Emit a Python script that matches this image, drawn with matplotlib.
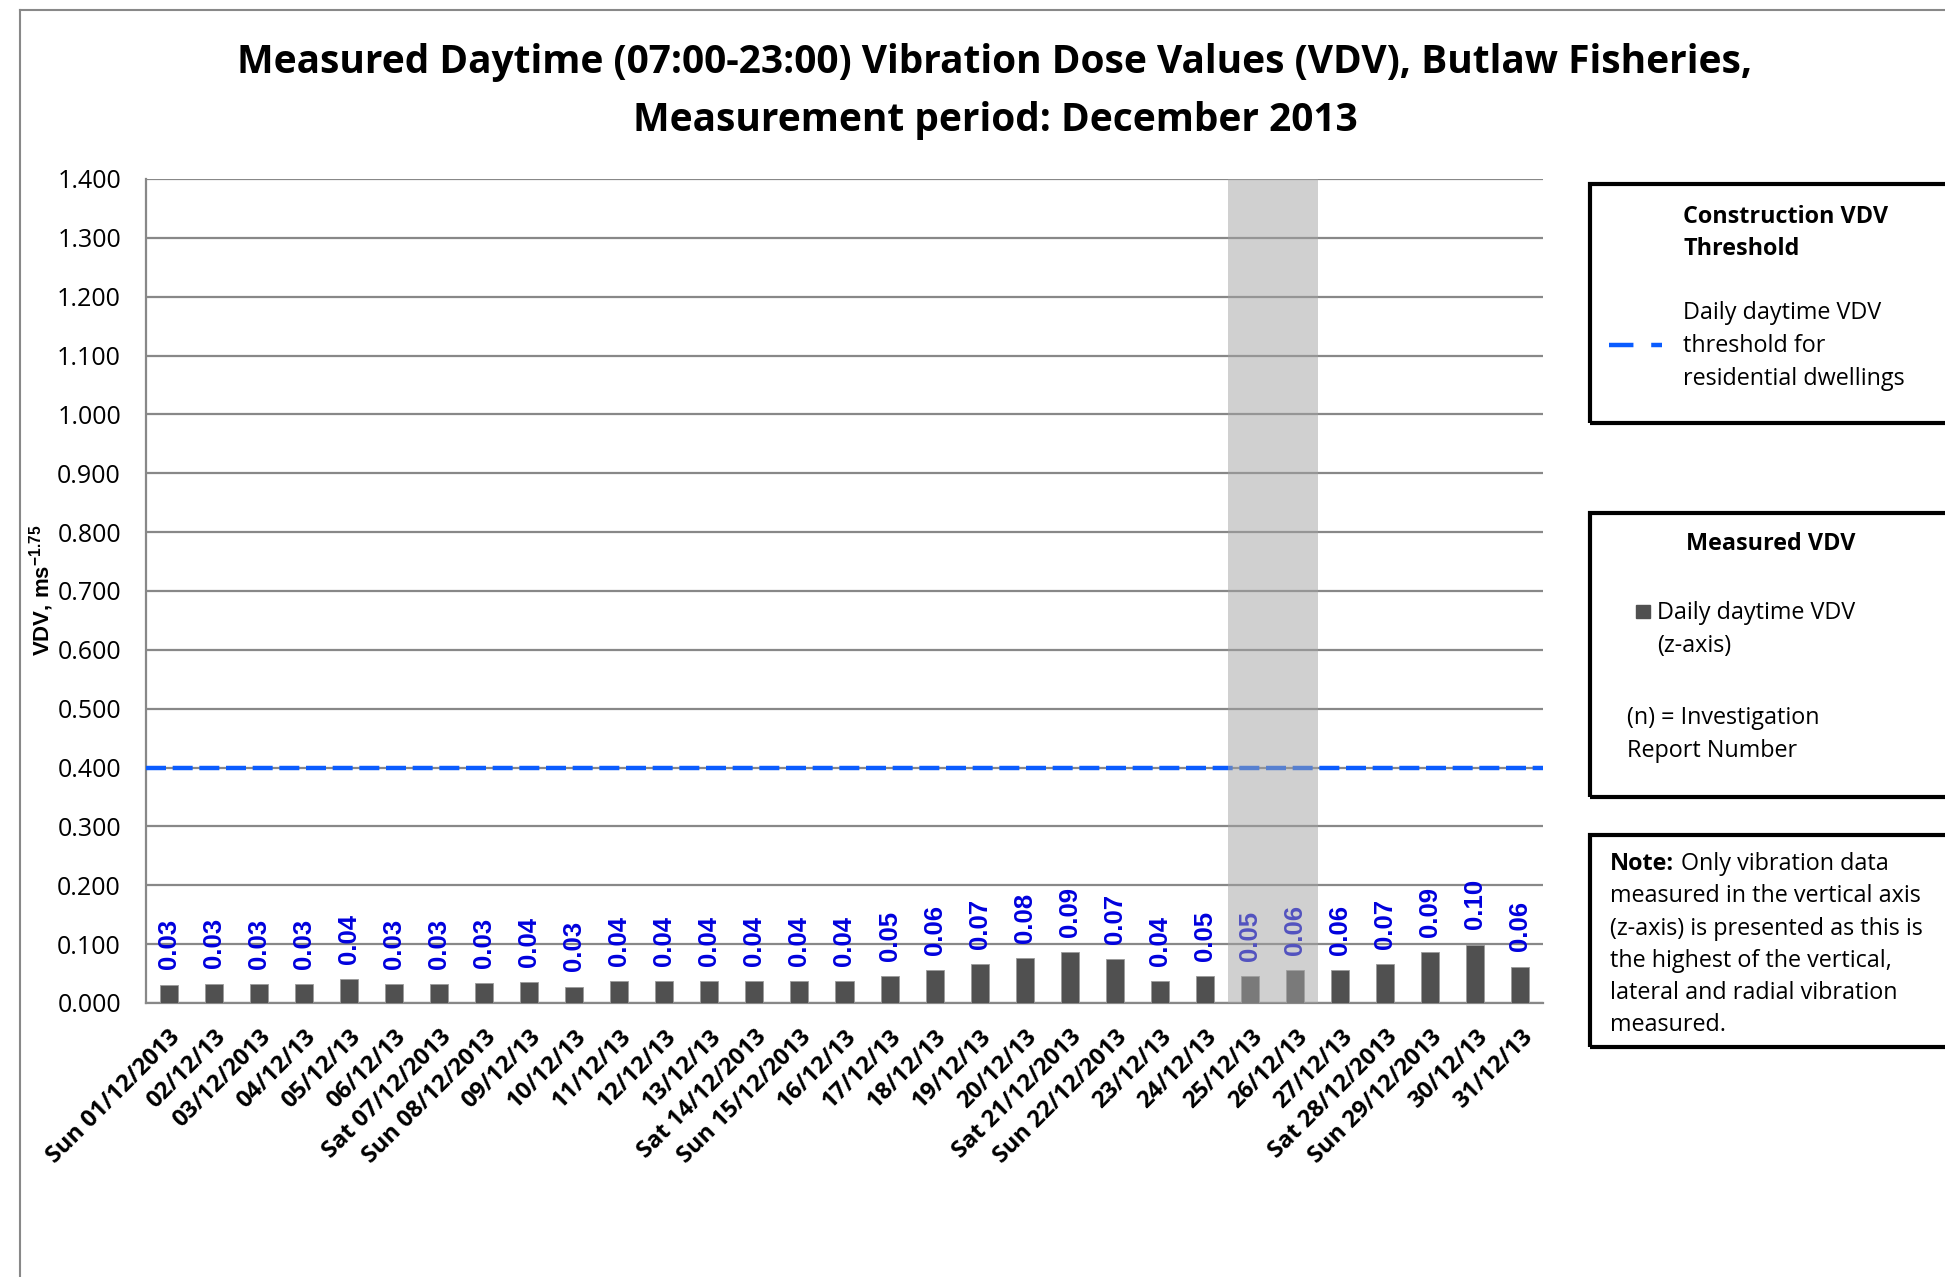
import matplotlib
matplotlib.use("Agg")
import matplotlib.pyplot as plt
from matplotlib.patches import Rectangle
from matplotlib.lines import Line2D

# ---- data ----
dates = ["Sun 01/12/2013", "02/12/13", "03/12/2013", "04/12/13", "05/12/13", "06/12/13",
         "Sat 07/12/2013", "Sun 08/12/2013", "09/12/13", "10/12/13", "11/12/13", "12/12/13",
         "13/12/13", "Sat 14/12/2013", "Sun 15/12/2013", "16/12/13", "17/12/13", "18/12/13",
         "19/12/13", "20/12/13", "Sat 21/12/2013", "Sun 22/12/2013", "23/12/13", "24/12/13",
         "25/12/13", "26/12/13", "27/12/13", "Sat 28/12/2013", "Sun 29/12/2013", "30/12/13",
         "31/12/13"]
vdv = [0.031, 0.033, 0.032, 0.032, 0.041, 0.032, 0.032, 0.034, 0.036, 0.028,
       0.037, 0.037, 0.037, 0.037, 0.037, 0.037, 0.046, 0.056, 0.066, 0.076,
       0.086, 0.074, 0.037, 0.046, 0.046, 0.056, 0.056, 0.066, 0.086, 0.099,
       0.062]
threshold = 0.4
shaded_days = ["25/12/13", "26/12/13"]
yticks = [0.0, 0.1, 0.2, 0.3, 0.4, 0.5, 0.6, 0.7, 0.8, 0.9, 1.0, 1.1, 1.2, 1.3, 1.4]

FONT = "Open Sans"
plt.rcParams["font.family"] = [FONT, "DejaVu Sans"]
plt.rcParams["mathtext.default"] = "regular"

W, H = 1945, 1277
fig = plt.figure(figsize=(W / 100, H / 100), dpi=100)
ax = fig.add_axes([146 / W, 1 - 1003 / H, (1543 - 146) / W, (1003 - 179) / H])

x = list(range(len(dates)))
ax.bar(x, vdv, width=0.4, color="#505050", edgecolor="#9a9a9a", linewidth=0.6, zorder=3)
for xi, v in zip(x, vdv):
    ax.annotate(f"{v:.2f}", (xi, v), xytext=(0, 11), textcoords="offset points",
                rotation=90, ha="center", va="bottom", color="#0000dd",
                fontsize=18.5, fontweight="bold", family="Liberation Sans", zorder=4)

ax.axhline(threshold, color="#0a5cff", linewidth=3.2, dashes=(4.5, 1.5), zorder=4,
           clip_on=False)

i0 = dates.index(shaded_days[0])
i1 = dates.index(shaded_days[-1])
ax.axvspan(i0 - 0.5, i1 + 0.5, color="#a3a3a3", alpha=0.51, linewidth=0, zorder=5)

ax.set_xlim(-0.5, len(dates) - 0.5)
ax.set_ylim(0, 1.4)
ax.set_yticks(yticks)
ax.set_yticklabels([f"{t:.3f}" for t in yticks], fontsize=18)
ax.yaxis.grid(True, color="#888888", linewidth=1.6, zorder=0)
ax.set_axisbelow(True)
ax.set_xticks(x)
ax.set_xticklabels(dates, rotation=45, ha="right", va="top", rotation_mode="anchor",
                   fontsize=17, fontweight="bold")
ax.tick_params(axis="both", length=0)
ax.tick_params(axis="y", pad=18)
ax.tick_params(axis="x", pad=16)
for s in ["top", "right"]:
    ax.spines[s].set_visible(False)
for s in ["left", "bottom"]:
    ax.spines[s].set_color("#888888")
    ax.spines[s].set_linewidth(1.6)

ax.set_ylabel("VDV, ms$^{-1.75}$", fontsize=16, fontweight="bold",
              family=["Liberation Sans Narrow", "Liberation Sans"])
ax.yaxis.set_label_coords(56 / W, 1 - 590 / H, transform=fig.transFigure)

# title
fig.text(995 / W, 1 - 62 / H, "Measured Daytime (07:00-23:00) Vibration Dose Values (VDV), Butlaw Fisheries,",
         ha="center", va="center", fontsize=28, fontweight="bold")
fig.text(995 / W, 1 - 120 / H, "Measurement period: December 2013",
         ha="center", va="center", fontsize=28, fontweight="bold")

# outer chart border (left & top)
fig.add_artist(Line2D([20 / W, 20 / W], [0, 1 - 10 / H], transform=fig.transFigure,
                      color="#888888", linewidth=1.5))
fig.add_artist(Line2D([20 / W, 1], [1 - 10 / H, 1 - 10 / H], transform=fig.transFigure,
                      color="#888888", linewidth=1.5))

# legend boxes
def box(y_top, y_bot):
    fig.add_artist(Rectangle((1590 / W, 1 - y_bot / H), 500 / W, (y_bot - y_top) / H,
                             transform=fig.transFigure, fill=False, edgecolor="black",
                             linewidth=3))

box(184, 423)
box(513, 797)
box(835, 1047)

fs = 16.8
fig.text(1683 / W, 1 - 217 / H, "Construction VDV", fontsize=fs, fontweight="bold", va="center")
fig.text(1683 / W, 1 - 249 / H, "Threshold", fontsize=fs, fontweight="bold", va="center")
for yy, t in zip([313, 346, 379], ["Daily daytime VDV", "threshold for", "residential dwellings"]):
    fig.text(1683 / W, 1 - yy / H, t, fontsize=fs, va="center")
fig.add_artist(Line2D([1609 / W, 1662 / W], [1 - 345 / H, 1 - 345 / H], transform=fig.transFigure,
                      color="#0a5cff", linewidth=3.2, dashes=(5.5, 4)))

fig.text(1771 / W, 1 - 544 / H, "Measured VDV", fontsize=fs, fontweight="bold", va="center", ha="center")
fig.add_artist(Rectangle((1636 / W, 1 - 618 / H), 14 / W, 13 / H, transform=fig.transFigure,
                         color="#505050"))
fig.text(1657 / W, 1 - 613 / H, "Daily daytime VDV", fontsize=fs, va="center")
fig.text(1657 / W, 1 - 646 / H, "(z-axis)", fontsize=fs, va="center")
fig.text(1627 / W, 1 - 718 / H, "(n) = Investigation", fontsize=fs, va="center")
fig.text(1627 / W, 1 - 751 / H, "Report Number", fontsize=fs, va="center")

note = fig.text(1610 / W, 1 - 864 / H, "Note:", fontsize=fs, fontweight="bold", va="center")
fig.canvas.draw()
bb = note.get_window_extent(fig.canvas.get_renderer())
fig.text((bb.x1 + 7) / W, 1 - 864 / H, "Only vibration data", fontsize=fs, va="center")
for yy, t in zip([896, 929, 961, 993, 1025],
                 ["measured in the vertical axis", "(z-axis) is presented as this is",
                  "the highest of the vertical,", "lateral and radial vibration", "measured."]):
    fig.text(1610 / W, 1 - yy / H, t, fontsize=fs, va="center")

fig.savefig("out.png", dpi=100)
